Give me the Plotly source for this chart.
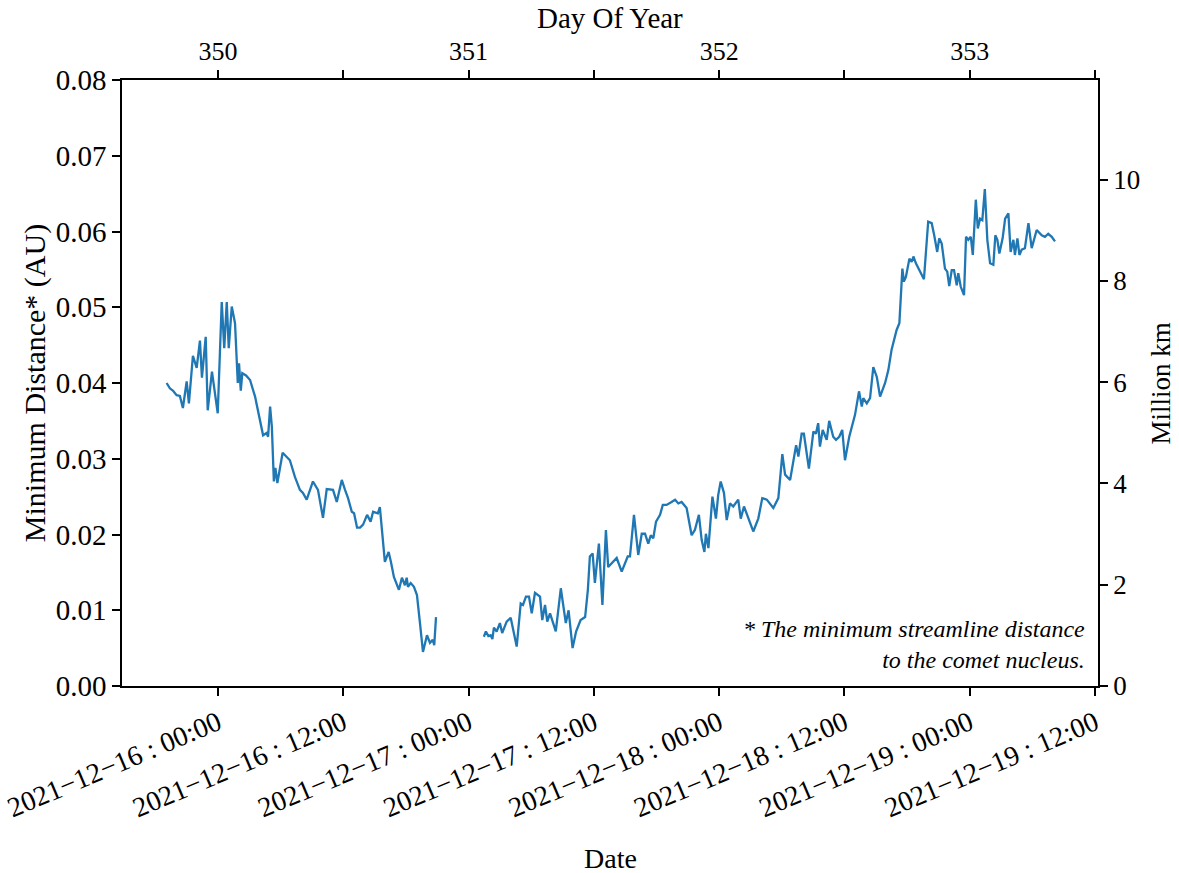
import pandas as pd
import plotly.graph_objects as go

# ---- data (day-of-year, minimum distance in AU) ----
doy_seg1 = [349.795, 349.808, 349.820, 349.835, 349.848, 349.860, 349.875, 349.884, 349.900, 349.915,
            349.928, 349.936, 349.951, 349.959, 349.976, 349.999, 350.015, 350.025, 350.035, 350.043,
            350.055, 350.068, 350.079, 350.084, 350.091, 350.097, 350.112, 350.128, 350.148, 350.168,
            350.180, 350.194, 350.200, 350.208, 350.215, 350.223, 350.229, 350.237, 350.258, 350.287,
            350.307, 350.327, 350.339, 350.354, 350.379, 350.399, 350.419, 350.434, 350.459, 350.474,
            350.494, 350.507, 350.519, 350.534, 350.543, 350.555, 350.567, 350.579, 350.595, 350.609,
            350.619, 350.638, 350.646, 350.666, 350.681, 350.690, 350.702, 350.722, 350.734, 350.746,
            350.753, 350.758, 350.769, 350.782, 350.794, 350.806, 350.818, 350.834, 350.846, 350.857,
            350.863, 350.870]
au_seg1 = [0.0400, 0.0393, 0.0390, 0.0384, 0.0383, 0.0367, 0.0402, 0.0373, 0.0436, 0.0420,
           0.0456, 0.0407, 0.0461, 0.0364, 0.0415, 0.0360, 0.0507, 0.0446, 0.0507, 0.0446,
           0.0501, 0.0479, 0.0400, 0.0426, 0.0390, 0.0413, 0.0410, 0.0404, 0.0382, 0.0347,
           0.0331, 0.0334, 0.0329, 0.0369, 0.0342, 0.0270, 0.0288, 0.0268, 0.0308, 0.0298,
           0.0276, 0.0259, 0.0255, 0.0246, 0.0270, 0.0259, 0.0222, 0.0260, 0.0259, 0.0243,
           0.0272, 0.0259, 0.0248, 0.0230, 0.0228, 0.0209, 0.0209, 0.0213, 0.0226, 0.0217,
           0.0230, 0.0228, 0.0236, 0.0164, 0.0177, 0.0164, 0.0144, 0.0127, 0.0143, 0.0133,
           0.0143, 0.0131, 0.0136, 0.0131, 0.0120, 0.0083, 0.0045, 0.0067, 0.0057, 0.0061,
           0.0054, 0.0091]

doy_seg2 = [351.061, 351.069, 351.079, 351.088, 351.095, 351.101, 351.112, 351.125, 351.134, 351.152,
            351.168, 351.178, 351.192, 351.208, 351.217, 351.229, 351.241, 351.252, 351.265, 351.285,
            351.294, 351.305, 351.314, 351.325, 351.348, 351.368, 351.378, 351.388, 351.399, 351.415,
            351.429, 351.447, 351.465, 351.476, 351.484, 351.495, 351.504, 351.520, 351.534, 351.548,
            351.557, 351.591, 351.611, 351.635, 351.644, 351.660, 351.677, 351.691, 351.704, 351.717,
            351.727, 351.737, 351.748, 351.764, 351.775, 351.790, 351.810, 351.824, 351.837, 351.850,
            351.870, 351.890, 351.903, 351.919, 351.930, 351.941, 351.947, 351.957, 351.973, 351.987,
            351.996, 352.006, 352.019, 352.030, 352.043, 352.056, 352.076, 352.086, 352.099, 352.116,
            352.136, 352.156, 352.172, 352.190, 352.216, 352.236, 352.252, 352.263, 352.283, 352.307,
            352.316, 352.329, 352.338, 352.358, 352.376, 352.386, 352.395, 352.402, 352.413, 352.429,
            352.439, 352.455, 352.466, 352.479, 352.491, 352.502, 352.519, 352.542, 352.558, 352.569,
            352.575, 352.589, 352.602, 352.615, 352.629, 352.642, 352.662, 352.675, 352.688, 352.708,
            352.719, 352.731, 352.737, 352.745, 352.759, 352.768, 352.775, 352.785, 352.801, 352.817,
            352.834, 352.848, 352.858, 352.870, 352.878, 352.888, 352.901, 352.910, 352.918, 352.928,
            352.937, 352.948, 352.954, 352.964, 352.977, 352.985, 352.994, 353.004, 353.012, 353.024,
            353.032, 353.041, 353.050, 353.060, 353.070, 353.081, 353.094, 353.102, 353.110, 353.118,
            353.131, 353.141, 353.154, 353.163, 353.174, 353.180, 353.190, 353.198, 353.207, 353.220,
            353.234, 353.247, 353.267, 353.287, 353.300, 353.313, 353.327, 353.340]
au_seg2 = [0.0065, 0.0072, 0.0066, 0.0067, 0.0062, 0.0077, 0.0072, 0.0083, 0.0070, 0.0085,
           0.0090, 0.0074, 0.0052, 0.0109, 0.0107, 0.0118, 0.0118, 0.0096, 0.0123, 0.0118,
           0.0087, 0.0107, 0.0085, 0.0096, 0.0072, 0.0129, 0.0105, 0.0083, 0.0100, 0.0050,
           0.0072, 0.0087, 0.0091, 0.0127, 0.0171, 0.0175, 0.0136, 0.0188, 0.0107, 0.0206,
           0.0157, 0.0169, 0.0151, 0.0171, 0.0171, 0.0226, 0.0173, 0.0201, 0.0201, 0.0188,
           0.0199, 0.0195, 0.0217, 0.0226, 0.0239, 0.0239, 0.0243, 0.0246, 0.0241, 0.0243,
           0.0235, 0.0199, 0.0206, 0.0226, 0.0193, 0.0177, 0.0201, 0.0182, 0.0250, 0.0221,
           0.0252, 0.0270, 0.0255, 0.0219, 0.0241, 0.0237, 0.0246, 0.0221, 0.0237, 0.0221,
           0.0204, 0.0221, 0.0248, 0.0246, 0.0235, 0.0248, 0.0306, 0.0279, 0.0272, 0.0318,
           0.0303, 0.0333, 0.0333, 0.0287, 0.0336, 0.0333, 0.0347, 0.0316, 0.0338, 0.0325,
           0.0350, 0.0329, 0.0325, 0.0329, 0.0338, 0.0298, 0.0329, 0.0358, 0.0389, 0.0369,
           0.0380, 0.0373, 0.0380, 0.0421, 0.0408, 0.0382, 0.0400, 0.0417, 0.0444, 0.0470,
           0.0479, 0.0551, 0.0534, 0.0540, 0.0564, 0.0560, 0.0567, 0.0558, 0.0547, 0.0537,
           0.0613, 0.0611, 0.0595, 0.0573, 0.0591, 0.0584, 0.0551, 0.0547, 0.0528, 0.0549,
           0.0549, 0.0529, 0.0545, 0.0527, 0.0516, 0.0593, 0.0589, 0.0593, 0.0569, 0.0642,
           0.0604, 0.0617, 0.0615, 0.0656, 0.0589, 0.0558, 0.0556, 0.0595, 0.0589, 0.0571,
           0.0591, 0.0617, 0.0624, 0.0573, 0.0589, 0.0569, 0.0591, 0.0569, 0.0576, 0.0578,
           0.0611, 0.0578, 0.0602, 0.0595, 0.0593, 0.0597, 0.0593, 0.0587]

date_ticks = ["2021-12-16 00:00", "2021-12-16 12:00", "2021-12-17 00:00", "2021-12-17 12:00",
              "2021-12-18 00:00", "2021-12-18 12:00", "2021-12-19 00:00", "2021-12-19 12:00"]
date_tick_labels = ["2021\u221212\u221216 : 00:00", "2021\u221212\u221216 : 12:00",
                    "2021\u221212\u221217 : 00:00", "2021\u221212\u221217 : 12:00",
                    "2021\u221212\u221218 : 00:00", "2021\u221212\u221218 : 12:00",
                    "2021\u221212\u221219 : 00:00", "2021\u221212\u221219 : 12:00"]
doy_tick_labels = ["350", "", "351", "", "352", "", "353", ""]
y_ticks_au = [0.00, 0.01, 0.02, 0.03, 0.04, 0.05, 0.06, 0.07, 0.08]
y_ticks_mkm = [0, 2, 4, 6, 8, 10]
x_range_doy = [349.617, 353.5116]
AU_MKM = 149.5978707

# ---- build ----
base = pd.Timestamp("2021-01-01")
def doy_to_dt(d):
    return base + pd.to_timedelta(d - 1, unit="D")

x_all = [doy_to_dt(d) for d in doy_seg1] + [None] + [doy_to_dt(d) for d in doy_seg2]
y_all = au_seg1 + [None] + au_seg2
y_mkm = [None if v is None else v * AU_MKM for v in y_all]
x_range = [doy_to_dt(x_range_doy[0]), doy_to_dt(x_range_doy[1])]

FONT = "Liberation Serif"

fig = go.Figure()
fig.add_trace(go.Scatter(x=x_all, y=y_all, mode="lines",
                         line=dict(color="#1f77b4", width=2.3), connectgaps=False,
                         showlegend=False, xaxis="x", yaxis="y"))
fig.add_trace(go.Scatter(x=x_all, y=y_mkm, mode="lines",
                         line=dict(color="rgba(0,0,0,0)", width=0), connectgaps=False,
                         showlegend=False, hoverinfo="skip", xaxis="x2", yaxis="y2"))

def axis_common(fs):
    return dict(showgrid=False, zeroline=False, showline=True, linecolor="black", linewidth=1.6,
                ticks="outside", ticklen=8, tickwidth=1.6, tickcolor="black",
                tickfont=dict(family=FONT, size=fs, color="black"))

fig.update_layout(
    width=1179, height=873,
    margin=dict(l=122, r=81, t=80, b=187, autoexpand=False),
    plot_bgcolor="white", paper_bgcolor="white",
    font=dict(family=FONT, size=26, color="black"),
    xaxis=dict(type="date", range=x_range, tickvals=date_ticks, ticktext=date_tick_labels,
               tickangle=-23, side="bottom", **axis_common(28)),
    xaxis2=dict(type="date", range=x_range, tickvals=date_ticks, ticktext=doy_tick_labels,
                overlaying="x", side="top", anchor="y", **axis_common(26)),
    yaxis=dict(range=[0, 0.08], tickvals=y_ticks_au, tickformat=".2f", side="left", **axis_common(29)),
    yaxis2=dict(range=[0, 0.08 * AU_MKM], tickvals=y_ticks_mkm, overlaying="y", side="right",
                anchor="x", **axis_common(27)),
)

def ann_font(fs):
    return dict(family=FONT, size=fs, color="black")

fig.add_annotation(text="Day Of Year", xref="paper", yref="paper", x=0.5, y=1.102,
                   showarrow=False, font=ann_font(29), xanchor="center", yanchor="middle")
fig.add_annotation(text="Date", xref="paper", yref="paper", x=0.5, y=-0.284,
                   showarrow=False, font=ann_font(28), xanchor="center", yanchor="middle")
fig.add_annotation(text="Minimum Distance* (AU)", xref="paper", yref="paper", x=-0.089, y=0.5,
                   textangle=-90, showarrow=False, font=ann_font(30), xanchor="center", yanchor="middle")
fig.add_annotation(text="Million km", xref="paper", yref="paper", x=1.065, y=0.5,
                   textangle=-90, showarrow=False, font=ann_font(27), xanchor="center", yanchor="middle")
fig.add_annotation(text="<i>* The minimum streamline distance</i><br><i>to the comet nucleus.</i>",
                   xref="paper", yref="paper", x=0.9887, y=0.069, align="right",
                   showarrow=False, font=ann_font(24),
                   xanchor="right", yanchor="middle")

fig.write_html("out.html", config={"displayModeBar": False},
               post_script="document.body.style.margin='0px';document.body.style.padding='0px';")
